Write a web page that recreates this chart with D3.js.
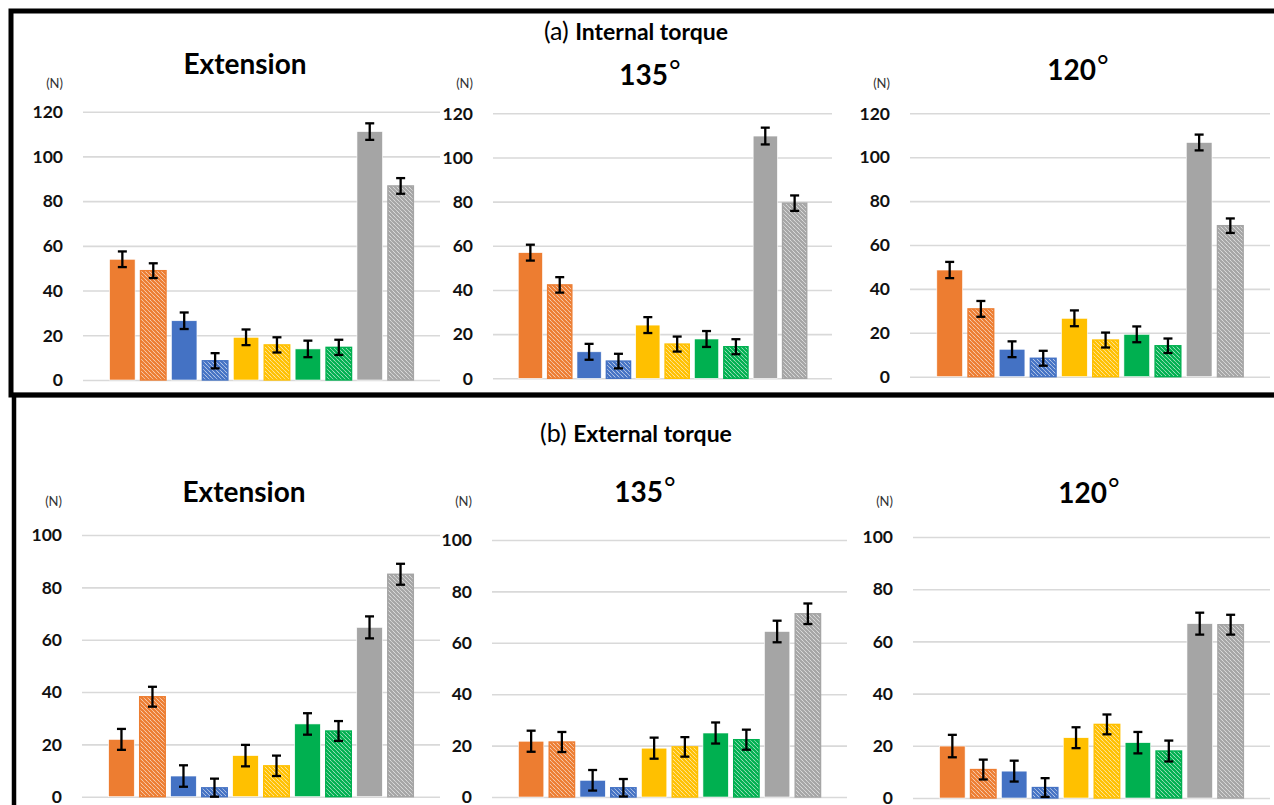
<!DOCTYPE html>
<html><head><meta charset="utf-8">
<script src="https://cdn.jsdelivr.net/npm/d3@7"></script>
<style>body{margin:0;background:#fff} svg{display:block}</style>
</head><body><svg id="c" width="1274" height="805"></svg>
<script>
// ---------- DATA ----------
const barKeys = ["orange","orange-h","blue","blue-h","yellow","yellow-h","green","green-h","gray","gray-h"];
const barColors = ["#ED7D31","#ED7D31","#4472C4","#4472C4","#FFC000","#FFC000","#00B050","#00B050","#A5A5A5","#A5A5A5"];
const barHatched = [false,true,false,true,false,true,false,true,false,true];

const internalTicks = [0,20,40,60,80,100,120];
const externalTicks = [0,20,40,60,80,100];

const intExt    = [54.0,48.9,26.5,8.6,19.1,15.7,13.9,14.6,111.1,86.8];
const intExtErr = [3.5,3.3,3.7,3.4,3.5,3.4,3.7,3.4,3.7,3.5];
const int135    = [56.9,42.3,12.0,7.8,24.1,15.5,17.8,14.3,109.7,79.3];
const int135Err = [3.6,3.5,3.6,3.3,3.6,3.4,3.6,3.4,3.8,3.5];
const int120    = [48.6,30.9,12.5,8.4,26.6,16.7,19.3,14.1,106.7,68.8];
const int120Err = [3.7,3.6,3.6,3.4,3.6,3.4,3.6,3.3,3.6,3.3];
const extExt    = [21.9,38.2,7.9,3.4,15.7,11.8,27.8,25.1,64.7,85.0];
const extExtErr = [4.0,3.8,4.1,3.5,4.1,3.9,4.1,3.8,4.2,4.0];
const ext135    = [21.7,21.4,6.5,3.6,19.0,19.5,24.9,22.3,64.4,71.3];
const ext135Err = [4.1,3.9,4.0,3.4,4.1,3.8,4.1,3.9,4.2,4.0];
const ext120    = [19.9,10.9,10.3,4.0,23.1,28.2,21.2,18.0,66.8,66.4];
const ext120Err = [4.3,3.8,4.0,3.6,4.0,3.8,4.1,4.0,4.2,3.8];

const sectionTitles = [{tag:"(a) ", text:"Internal torque"},{tag:"(b) ", text:"External torque"}];
const panelTitles = ["Extension","135","120","Extension","135","120"];
const unitLabel = "(N)";

// ---------- LAYOUT ----------
const FONT = "Lato, 'Open Sans', sans-serif";
const panels = [
  {vals:intExt, errs:intExtErr, ticks:internalTicks, max:120, x0:83,  x1:440,  yb:380,   yt:111.7, tx:245, ty:74,  deg:false, ny:85},
  {vals:int135, errs:int135Err, ticks:internalTicks, max:120, x0:493, x1:832,  yb:378.3, yt:113.3, tx:650, ty:85,  deg:true,  ny:85},
  {vals:int120, errs:int120Err, ticks:internalTicks, max:120, x0:910, x1:1270, yb:376.7, yt:113.3, tx:1078,ty:80,  deg:true,  ny:85},
  {vals:extExt, errs:extExtErr, ticks:externalTicks, max:100, x0:82,  x1:440,  yb:796.7, yt:535,   tx:244, ty:502, deg:false, ny:503},
  {vals:ext135, errs:ext135Err, ticks:externalTicks, max:100, x0:492, x1:847,  yb:797,   yt:540,   tx:645, ty:502, deg:true,  ny:503},
  {vals:ext120, errs:ext120Err, ticks:externalTicks, max:100, x0:913, x1:1270, yb:798,   yt:537,   tx:1089,ty:503, deg:true,  ny:503}
];

const svg = d3.select("#c");

// hatch patterns
const defs = svg.append("defs");
const uniqueColors = Array.from(new Set(barColors));
uniqueColors.forEach((c,i)=>{
  const p = defs.append("pattern").attr("id","h"+i).attr("patternUnits","userSpaceOnUse")
    .attr("width",4).attr("height",4);
  p.append("rect").attr("width",4).attr("height",4).attr("fill","#fff");
  p.append("path").attr("d","M-1,-1L5,5M-1,3L1,5M3,-1L5,1")
    .attr("stroke",c).attr("stroke-width",2.3).attr("fill","none");
});
const patId = c => "url(#h"+uniqueColors.indexOf(c)+")";

panels.forEach((P,pi)=>{
  const g = svg.append("g");
  const x = d3.scaleBand().domain(barKeys).range([P.x0,P.x1]).paddingInner(0.175).paddingOuter(0.86);
  const y = d3.scaleLinear().domain([0,P.max]).range([P.yb,P.yt]);

  const ax = g.append("g").attr("transform",`translate(${P.x0},0)`)
    .call(d3.axisLeft(y).tickValues(P.ticks).tickSize(-(P.x1-P.x0)).tickPadding(20).tickFormat(d3.format("d")));
  ax.select(".domain").remove();
  ax.selectAll(".tick line").attr("stroke","#d9d9d9").attr("stroke-width",1.6);
  ax.selectAll(".tick text").attr("font-family",FONT).attr("font-weight","bold")
    .attr("font-size",17.5).attr("fill","#111").attr("dy","0.33em");

  // unit label
  g.append("text").attr("x",P.x0-20).attr("y",P.ny).attr("text-anchor","end").attr("dominant-baseline","middle")
    .attr("font-family",FONT).attr("font-size",13).attr("fill","#333").text(unitLabel);

  // title
  const t = g.append("text").attr("x",P.tx).attr("y",P.ty).attr("text-anchor","middle")
    .attr("font-family",FONT).attr("font-weight","bold").attr("font-size",28).attr("fill","#000");
  t.append("tspan").text(panelTitles[pi]);
  if(P.deg) t.append("tspan").attr("font-weight","normal").attr("font-size",28).attr("dx",1).attr("dy",-4).text("°");

  // bars
  const data = barKeys.map((k,i)=>({k, v:P.vals[i], e:P.errs[i], c:barColors[i], h:barHatched[i]}));
  g.selectAll("rect.bar").data(data).join("rect").attr("class","bar")
    .attr("x",d=>x(d.k)).attr("width",x.bandwidth())
    .attr("y",d=>y(d.v)).attr("height",d=>y(0)-y(d.v))
    .attr("fill",d=>d.h?patId(d.c):d.c)
    .attr("stroke",d=>d.h?d.c:"#fff").attr("stroke-width",d=>d.h?1.4:0.6);

  // error bars
  const eb = g.selectAll("g.err").data(data).join("g").attr("class","err")
    .attr("stroke","#000").attr("stroke-width",2.3);
  const cx = d=>x(d.k)+x.bandwidth()/2;
  eb.append("line").attr("x1",cx).attr("x2",cx).attr("y1",d=>y(d.v+d.e)).attr("y2",d=>y(Math.max(0,d.v-d.e)));
  eb.append("line").attr("x1",d=>cx(d)-4.5).attr("x2",d=>cx(d)+4.5).attr("y1",d=>y(d.v+d.e)).attr("y2",d=>y(d.v+d.e));
  eb.append("line").attr("x1",d=>cx(d)-4.5).attr("x2",d=>cx(d)+4.5).attr("y1",d=>y(Math.max(0,d.v-d.e))).attr("y2",d=>y(Math.max(0,d.v-d.e)));
});

// section titles
[[636,40],[636,442]].forEach(([cx,cy],i)=>{
  const t = svg.append("text").attr("x",cx).attr("y",cy).attr("text-anchor","middle")
    .attr("font-family",FONT).attr("fill","#000");
  t.append("tspan").attr("font-size",25).text(sectionTitles[i].tag);
  t.append("tspan").attr("font-size",23).attr("font-weight","bold").text(sectionTitles[i].text);
});

// frame
svg.append("path").attr("d","M1290,11H11V395H1290").attr("fill","none").attr("stroke","#000").attr("stroke-width",5);
svg.append("path").attr("d","M1290,395H14V820").attr("fill","none").attr("stroke","#000").attr("stroke-width",4.5);
</script></body></html>
